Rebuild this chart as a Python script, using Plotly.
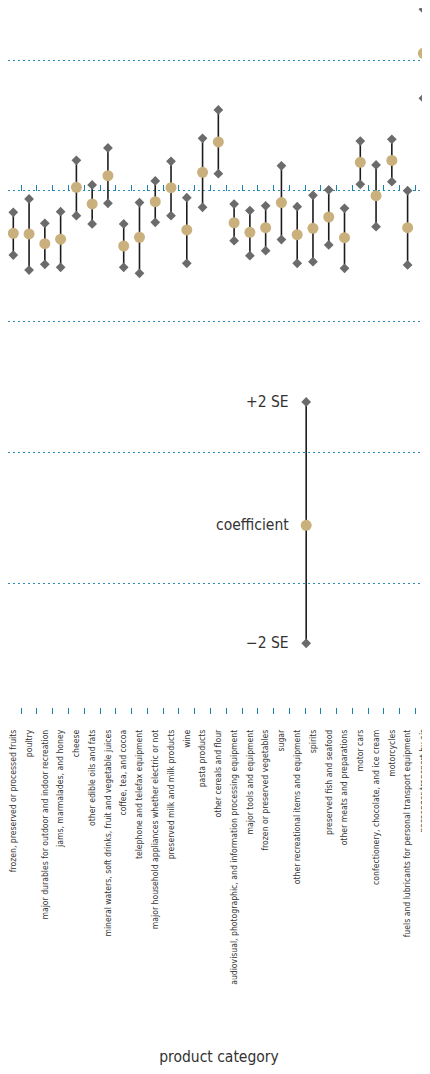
import plotly.graph_objects as go

categories = [
    "frozen, preserved or processed fruits",
    "poultry",
    "major durables for outdoor and indoor recreation",
    "jams, marmalades, and honey",
    "cheese",
    "other edible oils and fats",
    "mineral waters, soft drinks, fruit and vegetable juices",
    "coffee, tea, and cocoa",
    "telephone and telefax equipment",
    "major household appliances whether electric or not",
    "preserved milk and milk products",
    "wine",
    "pasta products",
    "other cereals and flour",
    "audiovisual, photographic, and information processing equipment",
    "major tools and equipment",
    "frozen or preserved vegetables",
    "sugar",
    "other recreational items and equipment",
    "spirits",
    "preserved fish and seafood",
    "other meats and preparations",
    "motor cars",
    "confectionery, chocolate, and ice cream",
    "motorcycles",
    "fuels and lubricants for personal transport equipment",
    "passenger transport by air",
]

coef = [-0.324, -0.329, -0.403, -0.369, 0.028, -0.099, 0.117, -0.421, -0.354,
        -0.082, 0.025, -0.298, 0.143, 0.375, -0.243, -0.316, -0.281, -0.089,
        -0.334, -0.286, -0.199, -0.357, 0.219, -0.036, 0.234, -0.281, 1.053]
upper = [-0.163, -0.061, -0.247, -0.158, 0.235, 0.046, 0.329, -0.252, -0.089,
         0.077, 0.227, -0.051, 0.403, 0.620, -0.100, -0.150, -0.113, 0.193,
         -0.120, -0.033, 0.008, -0.133, 0.382, 0.199, 0.395, 0.002, 1.390]
lower = [-0.490, -0.605, -0.561, -0.584, -0.189, -0.252, -0.094, -0.584, -0.630,
         -0.240, -0.189, -0.553, -0.125, 0.132, -0.380, -0.495, -0.457, -0.372,
         -0.553, -0.541, -0.413, -0.592, 0.051, -0.273, 0.071, -0.566, 0.709]

legend_x = [18.57]
legend_coef = [-2.558]
legend_upper = [-1.614]
legend_lower = [-3.461]
legend_labels = ["+2 SE", "coefficient", "\u22122 SE"]

x_title = "product category"

# ---- styling ----
FONT = "DejaVu Sans Condensed, Liberation Sans Narrow, Liberation Sans, sans-serif"
GRID = "#2b8bb8"
TICKC = "#1a82ad"
TAN = "#c9b07c"
DIAMOND = "#6b6b6b"
LINEC = "#1c1c1c"
TEXTC = "#333333"

X_RANGE = [-0.336, 26.42]
Y_RANGE = [-4.002, 1.4002]

idx = list(range(len(categories)))
boundaries = [i - 0.5 for i in range(len(categories) + 1)]


def seg(xs, lo, hi):
    sx, sy = [], []
    for x, a, b in zip(xs, lo, hi):
        sx += [x, x, None]
        sy += [a, b, None]
    return sx, sy


fig = go.Figure()

for xs, lo, mid, hi, ax in [(idx, lower, coef, upper, "x"),
                            (legend_x, legend_lower, legend_coef, legend_upper, "x2")]:
    sx, sy = seg(xs, lo, hi)
    fig.add_trace(go.Scatter(x=sx, y=sy, mode="lines", xaxis=ax, cliponaxis=False,
                             line=dict(color=LINEC, width=1.6),
                             hoverinfo="skip", showlegend=False))
    fig.add_trace(go.Scatter(x=list(xs) + list(xs), y=list(hi) + list(lo), mode="markers",
                             xaxis=ax, cliponaxis=False,
                             marker=dict(symbol="diamond", size=7.5, color=DIAMOND,
                                         line=dict(width=0)),
                             hoverinfo="skip", showlegend=False))
    fig.add_trace(go.Scatter(x=xs, y=mid, mode="markers", xaxis=ax, cliponaxis=False,
                             marker=dict(symbol="circle", size=11, color=TAN,
                                         line=dict(width=0)),
                             hoverinfo="skip", showlegend=False))

for yv, txt in zip([legend_upper[0], legend_coef[0], legend_lower[0]], legend_labels):
    fig.add_annotation(x=legend_x[0], y=yv, xref="x2", yref="y", text=txt,
                       showarrow=False, xanchor="right", yanchor="middle",
                       xshift=-15, font=dict(family=FONT, size=15.5, color=TEXTC))

zero_pos = (0 - Y_RANGE[0]) / (Y_RANGE[1] - Y_RANGE[0])

fig.update_layout(
    width=422, height=1058,
    margin=dict(l=0, r=0, t=0, b=352, pad=0, autoexpand=False),
    paper_bgcolor="white", plot_bgcolor="white",
    font=dict(family=FONT, color=TEXTC),
    showlegend=False,
    xaxis=dict(
        automargin=False,
        range=X_RANGE, tickmode="array", tickvals=idx, ticktext=categories,
        tickangle=-90, ticks="", showgrid=False, zeroline=False, showline=False,
        tickfont=dict(family=FONT, size=8.6, color=TEXTC),
        ticklabelstandoff=13,
        minor=dict(tickmode="array", tickvals=boundaries, ticks="inside",
                   ticklen=6, tickwidth=1.3, tickcolor=TICKC, showgrid=False),
        title=dict(text=x_title, font=dict(family=FONT, size=15.5, color=TEXTC),
                   standoff=70),
    ),
    xaxis2=dict(
        automargin=False,
        overlaying="x", matches="x", anchor="free", position=zero_pos,
        tickmode="array", tickvals=boundaries, ticks="inside", ticklen=6,
        tickwidth=1.3, tickcolor=TICKC, showticklabels=False, showgrid=False,
        zeroline=False, showline=False,
    ),
    yaxis=dict(
        automargin=False,
        range=Y_RANGE, tick0=0, dtick=1, showticklabels=False, ticks="",
        showgrid=True, gridcolor=GRID, gridwidth=1.3, griddash="1.5px,3.5px",
        zeroline=False, showline=False,
    ),
)

fig.write_html("out.html")
